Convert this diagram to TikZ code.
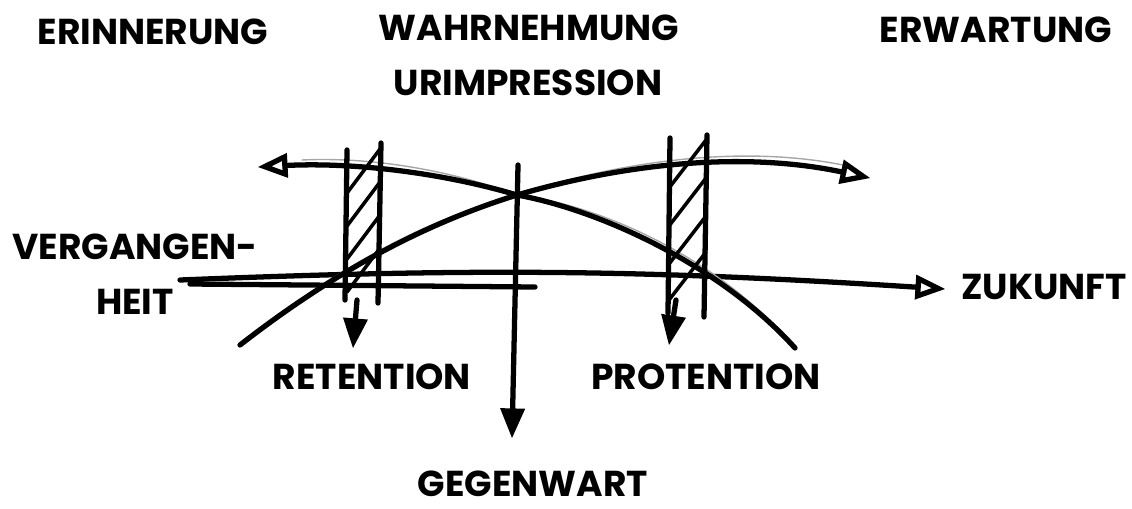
\documentclass[tikz,border=0pt]{standalone}
\usepackage{fontspec}
\setmainfont{Poppins}
\usetikzlibrary{arrows}
\usetikzlibrary{positioning}
\tikzstyle{lbl}=[font=\fontsize{20.5}{25}\selectfont\bfseries,inner sep=0pt]
\tikzstyle{strk}=[line width=3pt,line cap=round,black]
\tikzstyle{ghost}=[line width=0.8pt,black!35,line cap=round]
\tikzstyle{hatch}=[line width=2pt,line cap=round]
\begin{document}
\begin{tikzpicture}[x=0.02cm,y=-0.02cm]
	\useasboundingbox (0,0) rectangle (1132,508);
	\node[lbl] at (153,32)(erinnerung){ERINNERUNG};
	\node[lbl] at (529,28)(wahrnehmung){WAHRNEHMUNG};
	\node[lbl] at (528,83)(urimpression){URIMPRESSION};
	\node[lbl] at (996,30)(erwartung){ERWARTUNG};
	\node[lbl,align=center] at (135,274)(vergangenheit){VERGANGEN-\\[6pt]HEIT};
	\node[lbl] at (1044,287)(zukunft){ZUKUNFT};
	\node[lbl] at (372,377)(retention){RETENTION};
	\node[lbl] at (706,377)(protention){PROTENTION};
	\node[lbl] at (533,484)(gegenwart){GEGENWART};

	\coordinate (pastL) at (180,280);
	\coordinate (futR) at (945,289);
	\coordinate (nowtop) at (518,165);
	\coordinate (nowbot) at (512,438);
	\coordinate (now) at (517,195);
	\coordinate (riseL) at (240,345);
	\coordinate (riseR) at (870,178);
	\coordinate (fallL) at (258,167);
	\coordinate (fallR) at (795,348);

	\draw[strk,-open triangle 45] (pastL) to [bend left=3] (futR);
	\draw[strk] (pastL) ++(10,4) -- (535,287);
	\draw[strk,-triangle 45] (nowtop) -- (nowbot);

	\draw[ghost,shift={(3,-5)}] (riseL) .. controls (330,275) and (420,225) .. (now)
		.. controls (620,165) and (740,150) .. (840,170);
	\draw[ghost,shift={(2,-5)}] (300,165) .. controls (360,162) and (440,172) .. (now)
		.. controls (600,210) and (720,265) .. (fallR);
	\draw[strk,-open triangle 45] (riseL) .. controls (330,275) and (420,225) .. (now)
		.. controls (620,165) and (740,150) .. (riseR);
	\draw[strk,open triangle 45-] (fallL) .. controls (350,162) and (440,172) .. (now)
		.. controls (600,210) and (720,265) .. (fallR);

	\draw[strk] (347,150) -- (345,300);
	\draw[strk] (381,143) -- (378,303);
	\foreach \y in {193,226,259,292}
	{
		\draw[hatch] (347,\y) -- (380,\y-44);
	}
	\draw[strk] (670,138) -- (668,313);
	\draw[strk] (707,135) -- (704,317);
	\foreach \y in {188,226,264,300}
	{
		\draw[hatch] (669,\y) -- (706,\y-48);
	}

	\coordinate (retop) at (357,300);
	\coordinate (rebot) at (353,348);
	\coordinate (protop) at (676,300);
	\coordinate (probot) at (669,345);
	\draw[strk,-triangle 45] (retop) -- (rebot);
	\draw[strk,-triangle 45] (protop) -- (probot);
\end{tikzpicture}
\end{document}
